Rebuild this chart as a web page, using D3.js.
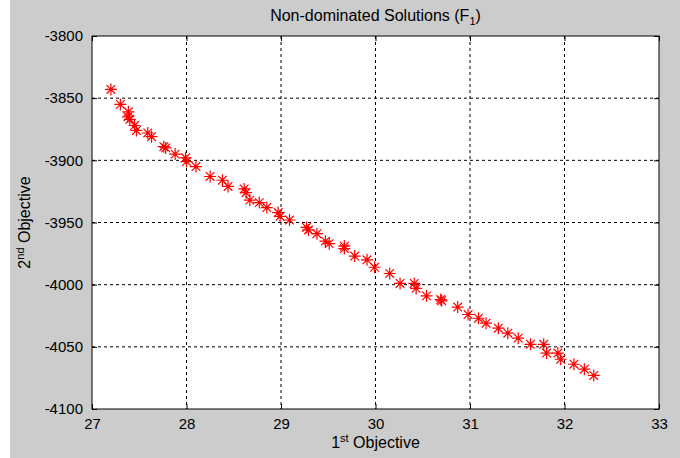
<!DOCTYPE html>
<html>
<head>
<meta charset="utf-8">
<script src="https://cdn.jsdelivr.net/npm/d3@7"></script>
<style>
  body { margin: 0; background: #fff; }
  text { font-family: "Liberation Sans", Arial, sans-serif; fill: #000; }
</style>
</head>
<body>
<div id="chart"></div>
<script>
// points
var xValues = [27.20, 27.30, 27.385, 27.38, 27.40, 27.45, 27.47, 27.59, 27.63, 27.76,
  27.78, 27.88, 27.99, 28.00, 28.10, 28.25, 28.38, 28.44, 28.61, 28.63,
  28.67, 28.77, 28.85, 28.97, 28.99, 29.09, 29.27, 29.29, 29.38, 29.47,
  29.51, 29.67, 29.67, 29.78, 29.91, 29.99, 30.15, 30.26, 30.41, 30.43,
  30.54, 30.69, 30.70, 30.87, 30.98, 31.09, 31.17, 31.30, 31.40, 31.51,
  31.64, 31.78, 31.81, 31.93, 31.96, 32.10, 32.21, 32.31];
var yValues = [-3843, -3855, -3861, -3865, -3867, -3872, -3876, -3878, -3881, -3889,
  -3890, -3895, -3898, -3901, -3905, -3913, -3916, -3921, -3923, -3926,
  -3932, -3934, -3938, -3942, -3945, -3948, -3954, -3956, -3959, -3965,
  -3967, -3969, -3971, -3977, -3980, -3986, -3991, -3999, -3999, -4003,
  -4009, -4012, -4013, -4018, -4024, -4027, -4031, -4035, -4039, -4043,
  -4048, -4048, -4055, -4055, -4060, -4064, -4068, -4073];
var xTicks = [27, 28, 29, 30, 31, 32, 33];
var yTicks = [-3800, -3850, -3900, -3950, -4000, -4050, -4100];

var W = 680, H = 458;
var margin = {top: 36, right: 21, bottom: 49, left: 92};
var width = W - margin.left - margin.right,
    height = H - margin.top - margin.bottom;

var root = d3.select("#chart").append("svg")
    .attr("width", W)
    .attr("height", H);

// gray figure background
root.append("rect")
    .attr("x", 10).attr("y", 0)
    .attr("width", W - 10).attr("height", H)
    .attr("fill", "#cccccc");

var svg = root.append("g")
    .attr("transform", "translate(" + margin.left + "," + margin.top + ")");

svg.append("rect")
    .attr("width", width).attr("height", height)
    .attr("fill", "#fff");

var x = d3.scaleLinear().domain([27, 33]).range([0, width]);
var y = d3.scaleLinear().domain([-4100, -3800]).range([height, 0]);

// grid
svg.append("g").selectAll("line.gx")
  .data(xTicks.slice(1, -1))
  .enter().append("line")
    .attr("x1", function(d) { return x(d); }).attr("x2", function(d) { return x(d); })
    .attr("y1", 0).attr("y2", height)
    .attr("stroke", "#000").attr("stroke-dasharray", "3,3");
svg.append("g").selectAll("line.gy")
  .data(yTicks.slice(1, -1))
  .enter().append("line")
    .attr("y1", function(d) { return y(d); }).attr("y2", function(d) { return y(d); })
    .attr("x1", 0).attr("x2", width)
    .attr("stroke", "#000").attr("stroke-dasharray", "3,3");

// axes, ticks pointing inward
var plain = function(d) { return String(d); };  // keep the plain hyphen
function styleAxis(g) {
  g.selectAll("text").style("font-size", "15px").attr("fill", "#1a1a1a");
  g.select(".domain").remove();
}
svg.append("g")
    .attr("transform", "translate(0," + height + ")")
    .call(d3.axisBottom(x).tickValues(xTicks).tickSize(-5).tickPadding(9).tickFormat(plain))
    .call(styleAxis);
svg.append("g")
    .call(d3.axisTop(x).tickValues(xTicks).tickSize(-5).tickFormat(""))
    .call(styleAxis);
svg.append("g")
    .call(d3.axisLeft(y).tickValues(yTicks).tickSize(-5).tickPadding(9).tickFormat(plain))
    .call(styleAxis);
svg.append("g")
    .attr("transform", "translate(" + width + ",0)")
    .call(d3.axisRight(y).tickValues(yTicks).tickSize(-5).tickFormat(""))
    .call(styleAxis);

svg.append("rect")
    .attr("width", width).attr("height", height)
    .attr("fill", "none").attr("stroke", "#000").attr("stroke-width", 1);

// '*' markers
var r = 6, rd = 4.3;
var star = "M" + (-r) + ",0H" + r + "M0," + (-r) + "V" + r +
  "M" + (-rd) + "," + (-rd) + "L" + rd + "," + rd +
  "M" + (-rd) + "," + rd + "L" + rd + "," + (-rd);
svg.append("g").selectAll("path")
  .data(xValues.map(function(d, i) { return [d, yValues[i]]; }))
  .enter().append("path")
    .attr("d", star)
    .attr("transform", function(d) { return "translate(" + x(d[0]) + "," + y(d[1]) + ")"; })
    .attr("stroke", "#ff0000").attr("stroke-width", 1.2).attr("fill", "none");

// title and labels
var title = root.append("text")
    .attr("x", margin.left + width / 2).attr("y", 21)
    .attr("text-anchor", "middle").style("font-size", "16px")
    .text("Non-dominated Solutions (F");
title.append("tspan").attr("dy", 4).style("font-size", "11px").text("1");
title.append("tspan").attr("dy", -4).text(")");

var xl = root.append("text")
    .attr("x", margin.left + width / 2).attr("y", 448)
    .attr("text-anchor", "middle").style("font-size", "16px")
    .text("1");
xl.append("tspan").attr("dy", -6).style("font-size", "11px").text("st");
xl.append("tspan").attr("dy", 6).text(" Objective");

var yl = root.append("text")
    .attr("transform", "translate(30," + (margin.top + height / 2) + ") rotate(-90)")
    .attr("text-anchor", "middle").style("font-size", "16px")
    .text("2");
yl.append("tspan").attr("dy", -6).style("font-size", "11px").text("nd");
yl.append("tspan").attr("dy", 6).text(" Objective");
</script>
</body>
</html>
